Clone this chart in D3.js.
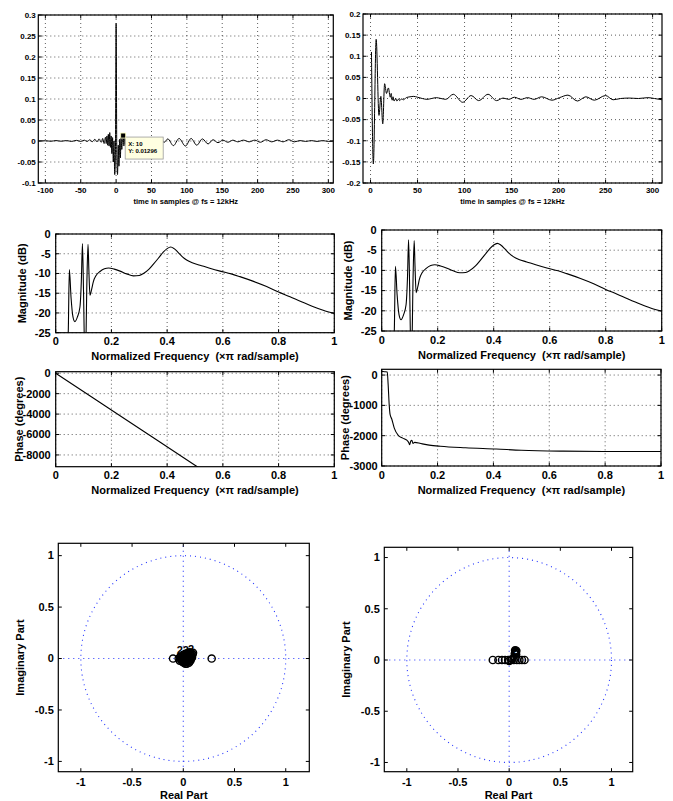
<!DOCTYPE html>
<html>
<head>
<meta charset="utf-8">
<script src="https://cdn.jsdelivr.net/npm/d3@7"></script>
<style>
body { margin: 0; background: #fff; }
svg { display: block; font-family: "Liberation Sans", Arial, sans-serif; font-weight: bold; }
text { white-space: pre; }
</style>
</head>
<body>
<svg id="fig" width="673" height="801"></svg>
<script>
/*global d3*/
// ---- ticks ----
var timeTicksLeft = [-100, -50, 0, 50, 100, 150, 200, 250, 300];
var ampTicksLeft = [-0.1, -0.05, 0, 0.05, 0.1, 0.15, 0.2, 0.25, 0.3];
var timeTicksRight = [0, 50, 100, 150, 200, 250, 300];
var ampTicksRight = [-0.2, -0.15, -0.1, -0.05, 0, 0.05, 0.1, 0.15, 0.2];
var freqTicks = [0, 0.2, 0.4, 0.6, 0.8, 1];
var magTicks = [-25, -20, -15, -10, -5, 0];
var phaseTicksLeft = [-8000, -6000, -4000, -2000, 0];
var phaseTicksRight = [-3000, -2000, -1000, 0];
var zTicks = [-1, -0.5, 0, 0.5, 1];

// ---- impulse responses [sample, value] ----
var impulseLeft = [[-110, 0], [-100, 0.0005], [-92, -0.0005], [-85, 0.001], [-78, -0.0005], [-70, 0.001],
    [-63, -0.001], [-56, 0.0015], [-50, -0.001], [-45, 0.002], [-41, -0.001], [-37, 0.003], [-34, -0.002],
    [-30, 0.004], [-27, -0.002], [-24, 0.005], [-21, -0.003], [-19, 0.006], [-17, -0.006], [-15, 0.009],
    [-14, -0.006], [-13, 0.012], [-12, -0.01], [-11, 0.016], [-10, -0.012], [-9, 0.02], [-8, -0.015],
    [-7, 0.012], [-6, -0.03], [-5, 0.008], [-4, -0.05], [-3, 0], [-2, -0.08], [-1, -0.035], [0, 0.28],
    [1, -0.035], [2, -0.08], [3, -0.01], [4, -0.06], [5, 0.004], [6, -0.04], [7, 0.008], [8, -0.02],
    [9, 0.006], [10, 0.01296], [11, -0.012], [12, 0.011], [13, -0.008], [14, 0.007], [15, -0.005],
    [16, 0.004], [18, -0.004], [20, 0.003], [23, -0.003], [26, 0.002], [30, -0.002], [34, 0.002],
    [38, -0.002], [43, 0.002], [48, -0.001], [53, 0.002], [58, -0.002], [63, 0.002], [68, -0.003],
    [73, 0.005], [81, -0.011], [89, 0.006], [98, -0.012], [106, 0.006], [114, -0.01], [122, 0.005],
    [130, -0.007], [137, 0.003], [144, -0.004], [151, 0.002], [158, -0.003], [165, 0.002], [172, -0.002],
    [180, 0.002], [188, -0.002], [196, 0.002], [204, -0.003], [212, 0.003], [220, -0.002], [228, 0.002],
    [236, -0.002], [244, 0.003], [252, -0.002], [260, 0.001], [268, -0.001], [276, 0.001], [284, -0.001],
    [292, 0.001], [300, -0.001], [307, 0]];
var impulseRight = [[1, 0.11], [3, -0.155], [6, 0.14], [9, -0.04], [11, 0.005], [13, -0.06], [15, 0.035],
    [17, 0.012], [19, 0.025], [21, 0.003], [22, 0.012], [23, -0.004], [24, 0.004], [25, -0.006], [27, 0],
    [28, -0.006], [30, -0.001], [31, -0.005], [33, -0.001], [35, -0.003], [38, 0.002], [42, 0.004],
    [46, 0.005], [50, 0.003], [55, 0], [60, -0.002], [65, 0], [70, 0.002], [75, 0], [80, -0.002],
    [88, 0.01], [98, -0.009], [107, 0.007], [115, -0.005], [125, 0.01], [134, -0.005], [141, 0.001],
    [147, -0.002], [153, 0.003], [160, -0.002], [167, 0.002], [174, -0.002], [182, 0.004], [193, -0.004],
    [201, 0.002], [210, 0.008], [220, -0.006], [229, 0.004], [238, -0.004], [250, 0.007], [258, -0.003],
    [266, 0], [275, 0.001], [285, 0], [295, 0.002], [302, 0], [310, -0.003]];
var dataTip = {x: 10, y: 0.01296};

// ---- frequency responses [normalized freq, value] ----
var magnitudeDb = [[0.04, -30], [0.045, -25], [0.049, -9], [0.055, -16], [0.062, -21], [0.069, -22.2],
    [0.078, -21], [0.087, -18.5], [0.092, -12], [0.096, -2.4], [0.1, -15], [0.104, -30], [0.108, -28],
    [0.112, -12], [0.116, -2.6], [0.119, -9], [0.123, -15.5], [0.129, -14], [0.135, -12.1], [0.145, -10.5],
    [0.159, -9.5], [0.175, -8.8], [0.19, -8.6], [0.21, -8.9], [0.231, -9.4], [0.255, -10.1], [0.279, -10.6],
    [0.3, -10.5], [0.315, -10], [0.335, -8.9], [0.35, -7.7], [0.37, -6], [0.386, -4.6], [0.4, -3.7],
    [0.413, -3.3], [0.425, -3.7], [0.44, -4.7], [0.455, -5.8], [0.47, -6.6], [0.49, -7.3], [0.518, -7.9],
    [0.55, -8.6], [0.59, -9.4], [0.63, -10.1], [0.661, -10.8], [0.71, -12], [0.757, -13.3], [0.8, -14.7],
    [0.841, -15.9], [0.88, -17.1], [0.925, -18.4], [0.96, -19.3], [1, -20.1]];
var phaseLeft = [[0, 0], [0.25, -4500], [0.5, -9000], [0.55, -9900]];
var phaseRight = [[0, 120], [0.01, 110], [0.02, 100], [0.023, -300], [0.027, -1000], [0.03, -1300],
    [0.036, -1450], [0.045, -1750], [0.06, -2000], [0.075, -2080], [0.09, -2150], [0.097, -2230],
    [0.1, -2300], [0.104, -2180], [0.108, -2150], [0.112, -2260], [0.118, -2220], [0.14, -2260],
    [0.17, -2310], [0.21, -2350], [0.3, -2400], [0.41, -2440], [0.5, -2480], [0.65, -2510], [0.8, -2520],
    [1, -2520]];

// ---- pole/zero plots [re, im] ----
var zerosLeft = [[-0.1, 0], [0.277, 0], [-0.045, 0], [-0.035, -0.02], [-0.03, 0.015], [-0.02, 0.02],
    [-0.01, -0.03], [-0.005, 0.005], [0, 0.02], [0.005, -0.04], [0.01, 0.035], [0.015, -0.015],
    [0.02, 0.01], [0.025, 0.03], [0.03, -0.035], [0.035, 0.0], [0.04, 0.04], [0.045, -0.02],
    [0.05, 0.02], [0.055, -0.04], [0.06, 0.045], [0.065, 0.0], [0.07, -0.02], [0.075, 0.03],
    [0.08, 0.05], [0.085, 0.01], [0.09, 0.04], [0.02, -0.05], [0.045, 0.055], [0.065, 0.06],
    [-0.025, -0.005], [-0.015, 0.0], [0.0, -0.015], [0.01, 0.0], [0.02, 0.045], [0.03, 0.015],
    [0.04, -0.005], [0.05, 0.04], [0.055, 0.005], [0.07, 0.045], [0.08, 0.025], [0.095, 0.055],
    [-0.005, 0.035], [0.035, -0.05], [0.06, -0.025], [0.075, -0.005], [0.01, -0.025], [0.045, 0.025]];
var multLeft = [['22', -0.005, 0.045], ['2', 0.075, 0.05]];
var zerosRight = [[-0.16, 0], [-0.105, 0], [-0.07, 0], [-0.04, 0], [-0.01, 0], [0.02, 0], [0.045, 0],
    [0.075, 0], [0.1, 0], [0.125, 0], [0.15, 0], [0, -0.01], [0.03, 0.01], [0.06, 0.085], [0.065, 0.07],
    [0.055, 0.06], [0.07, 0.09], [0.062, 0.078], [0.058, 0.095], [0.068, 0.055]];
var multRight = [['2', 0.055, 0.045]];

var svg = d3.select('#fig'),
    freeId = 0;

function inDomain(domain) {
    var lo = Math.min(domain[0], domain[1]), hi = Math.max(domain[0], domain[1]);
    return function (v) { return v >= lo - 1e-9 && v <= hi + 1e-9; };
}

// builds one MATLAB-style axes box; content(plot, x, y, g) draws the data
function drawAxes(cfg, content) {
    var x = d3.scaleLinear().domain(cfg.xDomain).range([cfg.left, cfg.right]),
        y = d3.scaleLinear().domain(cfg.yDomain).range([cfg.bottom, cfg.top]),
        g = svg.append('g'),
        clipId = 'clip' + (freeId++),
        xt = cfg.xTicks.filter(inDomain(cfg.xDomain)),
        yt = cfg.yTicks.filter(inDomain(cfg.yDomain)),
        len = 3.5,
        plot;

    g.append('clipPath').attr('id', clipId)
        .append('rect')
        .attr('x', cfg.left).attr('y', cfg.top)
        .attr('width', cfg.right - cfg.left).attr('height', cfg.bottom - cfg.top);

    //dotted grid
    if (cfg.grid) {
        g.selectAll('.gx').data(xt).enter().append('line')
            .attr('x1', x).attr('x2', x).attr('y1', cfg.top).attr('y2', cfg.bottom)
            .attr('stroke', '#333').attr('stroke-width', 0.8).attr('stroke-dasharray', '1,3');
        g.selectAll('.gy').data(yt).enter().append('line')
            .attr('y1', y).attr('y2', y).attr('x1', cfg.left).attr('x2', cfg.right)
            .attr('stroke', '#333').attr('stroke-width', 0.8).attr('stroke-dasharray', '1,3');
    }

    plot = g.append('g').attr('clip-path', 'url(#' + clipId + ')');
    content(plot, x, y, g);

    //box and inward ticks on all sides
    g.append('rect')
        .attr('x', cfg.left).attr('y', cfg.top)
        .attr('width', cfg.right - cfg.left).attr('height', cfg.bottom - cfg.top)
        .attr('fill', 'none').attr('stroke', '#000').attr('stroke-width', 1.2);
    xt.forEach(function (v) {
        g.append('line').attr('x1', x(v)).attr('x2', x(v)).attr('y1', cfg.bottom).attr('y2', cfg.bottom - len).attr('stroke', '#000');
        g.append('line').attr('x1', x(v)).attr('x2', x(v)).attr('y1', cfg.top).attr('y2', cfg.top + len).attr('stroke', '#000');
    });
    yt.forEach(function (v) {
        g.append('line').attr('y1', y(v)).attr('y2', y(v)).attr('x1', cfg.left).attr('x2', cfg.left + len).attr('stroke', '#000');
        g.append('line').attr('y1', y(v)).attr('y2', y(v)).attr('x1', cfg.right).attr('x2', cfg.right - len).attr('stroke', '#000');
    });

    //tick labels
    g.selectAll('.xl').data(xt).enter().append('text')
        .attr('x', x).attr('y', cfg.bottom + cfg.xTickDy)
        .attr('text-anchor', 'middle').attr('font-size', cfg.fontSize)
        .text(function (v) { return String(v); });
    g.selectAll('.yl').data(yt).enter().append('text')
        .attr('x', cfg.left - cfg.yTickDx).attr('y', y).attr('dy', '0.35em')
        .attr('text-anchor', 'end').attr('font-size', cfg.fontSize)
        .text(function (v) { return String(v); });

    //axis labels
    if (cfg.xLabel) {
        g.append('text')
            .attr('x', (cfg.left + cfg.right) / 2).attr('y', cfg.bottom + cfg.xLabelDy)
            .attr('text-anchor', 'middle').attr('font-size', cfg.labelSize)
            .text(cfg.xLabel);
    }
    if (cfg.yLabel) {
        g.append('text')
            .attr('transform', 'translate(' + (cfg.left - cfg.yLabelDx) + ',' + ((cfg.top + cfg.bottom) / 2) + ') rotate(-90)')
            .attr('text-anchor', 'middle').attr('font-size', cfg.labelSize)
            .text(cfg.yLabel);
    }
}

function lineContent(data, width) {
    return function (plot, x, y) {
        plot.append('path')
            .datum(data)
            .attr('fill', 'none').attr('stroke', '#000').attr('stroke-width', width)
            .attr('stroke-linejoin', 'round')
            .attr('d', d3.line()
                .curve(d3.curveMonotoneX)
                .x(function (d) { return x(d[0]); })
                .y(function (d) { return y(d[1]); }));
    };
}

function zplaneContent(zeros, mult) {
    return function (plot, x, y) {
        var blue = '#2233ff';
        plot.append('ellipse')
            .attr('cx', x(0)).attr('cy', y(0))
            .attr('rx', x(1) - x(0)).attr('ry', y(0) - y(1))
            .attr('fill', 'none').attr('stroke', blue).attr('stroke-width', 1.1).attr('stroke-dasharray', '1,4');
        plot.append('line').attr('x1', x.range()[0]).attr('x2', x.range()[1]).attr('y1', y(0)).attr('y2', y(0))
            .attr('stroke', blue).attr('stroke-width', 1.1).attr('stroke-dasharray', '1,4');
        plot.append('line').attr('y1', y.range()[0]).attr('y2', y.range()[1]).attr('x1', x(0)).attr('x2', x(0))
            .attr('stroke', blue).attr('stroke-width', 1.1).attr('stroke-dasharray', '1,4');
        plot.selectAll('.zero').data(zeros).enter().append('circle')
            .attr('cx', function (d) { return x(d[0]); })
            .attr('cy', function (d) { return y(d[1]); })
            .attr('r', 3.6)
            .attr('fill', 'none').attr('stroke', '#000').attr('stroke-width', 1.4);
        plot.selectAll('.mult').data(mult).enter().append('text')
            .attr('x', function (d) { return x(d[1]); })
            .attr('y', function (d) { return y(d[2]); })
            .attr('font-size', 11).attr('text-anchor', 'middle')
            .text(function (d) { return d[0]; });
    };
}

// ---- top row: impulse responses ----
drawAxes({
    left: 38.3, right: 333.3, top: 15, bottom: 183,
    xDomain: [-110, 307], yDomain: [-0.1, 0.3],
    xTicks: timeTicksLeft, yTicks: ampTicksLeft, grid: true,
    fontSize: 8, labelSize: 7.5, xTickDy: 10, yTickDx: 2.5, xLabelDy: 21,
    xLabel: 'time in samples @ fs = 12kHz'
}, function (plot, x, y, g) {
    var mx, my;
    lineContent(impulseLeft, 1)(plot, x, y);
    //data tip
    mx = x(dataTip.x);
    my = y(dataTip.y);
    g.append('rect').attr('x', mx + 2).attr('y', my + 1.5).attr('width', 38).attr('height', 22)
        .attr('fill', '#ffffe1').attr('stroke', '#9a9a9a').attr('stroke-width', 0.8);
    g.append('rect').attr('x', mx - 2.5).attr('y', my - 2.5).attr('width', 5).attr('height', 5)
        .attr('fill', '#000').attr('stroke', '#ffffc0').attr('stroke-width', 0.8);
    g.append('text').attr('x', mx + 5).attr('y', my + 10.5).attr('font-size', 6)
        .text('X: ' + dataTip.x);
    g.append('text').attr('x', mx + 5).attr('y', my + 17.5).attr('font-size', 6)
        .text('Y: ' + dataTip.y);
});

drawAxes({
    left: 363, right: 662, top: 14, bottom: 183,
    xDomain: [-8, 310], yDomain: [-0.2, 0.2],
    xTicks: timeTicksRight, yTicks: ampTicksRight, grid: true,
    fontSize: 8, labelSize: 7.5, xTickDy: 10, yTickDx: 2.5, xLabelDy: 21,
    xLabel: 'time in samples @ fs = 12kHz'
}, lineContent(impulseRight, 1));

// ---- middle rows: magnitude and phase ----
var freqLabel = 'Normalized Frequency  (\u00d7\u03c0 rad/sample)';

drawAxes({
    left: 55.7, right: 334.3, top: 234, bottom: 332.7,
    xDomain: [0, 1], yDomain: [-25, 0],
    xTicks: freqTicks, yTicks: magTicks, grid: true,
    fontSize: 11, labelSize: 11, xTickDy: 12.5, yTickDx: 5, xLabelDy: 27.5, yLabelDx: 30,
    xLabel: freqLabel, yLabel: 'Magnitude (dB)'
}, lineContent(magnitudeDb, 1.1));

drawAxes({
    left: 381.7, right: 661.7, top: 230, bottom: 331,
    xDomain: [0, 1], yDomain: [-25, 0],
    xTicks: freqTicks, yTicks: magTicks, grid: true,
    fontSize: 11, labelSize: 11, xTickDy: 12.5, yTickDx: 5, xLabelDy: 27.5, yLabelDx: 30,
    xLabel: freqLabel, yLabel: 'Magnitude (dB)'
}, lineContent(magnitudeDb, 1.1));

drawAxes({
    left: 55.7, right: 334.3, top: 371.7, bottom: 466.7,
    xDomain: [0, 1], yDomain: [-9150, 150],
    xTicks: freqTicks, yTicks: phaseTicksLeft, grid: true,
    fontSize: 11, labelSize: 11, xTickDy: 12.5, yTickDx: 5, xLabelDy: 27.5, yLabelDx: 32.5,
    xLabel: freqLabel, yLabel: 'Phase (degrees)'
}, lineContent(phaseLeft, 1.1));

drawAxes({
    left: 381.7, right: 661, top: 369.3, bottom: 466,
    xDomain: [0, 1], yDomain: [-3000, 190],
    xTicks: freqTicks, yTicks: phaseTicksRight, grid: true,
    fontSize: 11, labelSize: 11, xTickDy: 12.5, yTickDx: 4, xLabelDy: 27.5, yLabelDx: 32.5,
    xLabel: freqLabel, yLabel: 'Phase (degrees)'
}, lineContent(phaseRight, 1.1));

// ---- bottom row: pole/zero plots ----
drawAxes({
    left: 58.3, right: 309.3, top: 543.3, bottom: 771.7,
    xDomain: [-1.22, 1.23], yDomain: [-1.1, 1.12],
    xTicks: zTicks, yTicks: zTicks, grid: false,
    fontSize: 11, labelSize: 11, xTickDy: 14.5, yTickDx: 4.5, xLabelDy: 27.5, yLabelDx: 34.5,
    xLabel: 'Real Part', yLabel: 'Imaginary Part'
}, zplaneContent(zerosLeft, multLeft));

drawAxes({
    left: 384.3, right: 632.7, top: 547.3, bottom: 771.7,
    xDomain: [-1.22, 1.207], yDomain: [-1.09, 1.1],
    xTicks: zTicks, yTicks: zTicks, grid: false,
    fontSize: 11, labelSize: 11, xTickDy: 14.5, yTickDx: 4.5, xLabelDy: 27.5, yLabelDx: 34.5,
    xLabel: 'Real Part', yLabel: 'Imaginary Part'
}, zplaneContent(zerosRight, multRight));
</script>
</body>
</html>
